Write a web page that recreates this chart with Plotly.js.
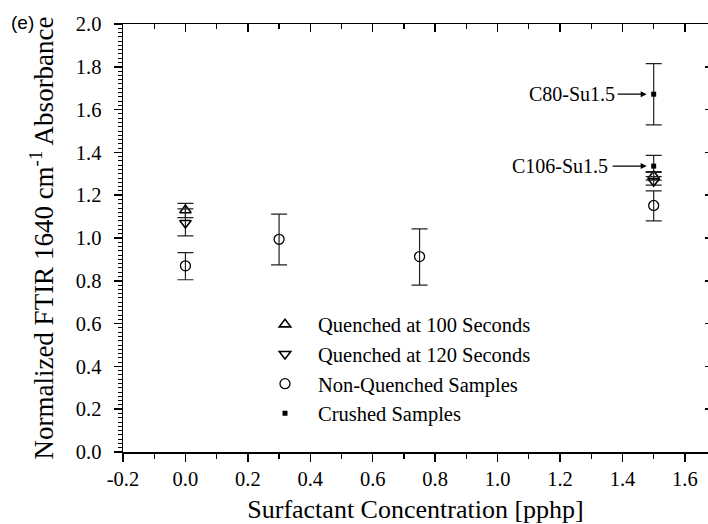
<!DOCTYPE html>
<html>
<head>
<meta charset="utf-8">
<script src="https://cdn.plot.ly/plotly-3.0.1.min.js"></script>
<style>html,body{margin:0;padding:0;overflow:hidden;background:#fff;}</style>
</head>
<body>
<div id="chart" style="width:708px;height:524px;"></div>
<script>
// Quenched at 100 Seconds
var q100X = [0, 1.5];
var q100Y = [1.13, 1.29];
var q100Up = [0.032, 0.02];
var q100Dn = [0.035, 0.02];
// Quenched at 120 Seconds
var q120X = [0, 1.5];
var q120Y = [1.07, 1.265];
var q120Up = [0.066, 0.022];
var q120Dn = [0.06, 0.018];
// Non-Quenched Samples
var nqX = [0, 0.3, 0.75, 1.5];
var nqY = [0.87, 0.994, 0.913, 1.152];
var nqUp = [0.062, 0.118, 0.13, 0.068];
var nqDn = [0.065, 0.12, 0.133, 0.072];
// Crushed Samples
var crX = [1.5, 1.5];
var crY = [1.672, 1.336];
var crUp = [0.143, 0.05];
var crDn = [0.143, 0.03];
var crLabels = ["C80-Su1.5", "C106-Su1.5"];

var seriesNames = ["Quenched at 100 Seconds", "Quenched at 120 Seconds", "Non-Quenched Samples", "Crushed Samples"];

// tick labels
var xTickVals = [-0.2, 0, 0.2, 0.4, 0.6, 0.8, 1.0, 1.2, 1.4, 1.6];
var xTickText = ["-0.2", "0.0", "0.2", "0.4", "0.6", "0.8", "1.0", "1.2", "1.4", "1.6"];
var yTickVals = [0, 0.2, 0.4, 0.6, 0.8, 1.0, 1.2, 1.4, 1.6, 1.8, 2.0];
var yTickText = ["0.0", "0.2", "0.4", "0.6", "0.8", "1.0", "1.2", "1.4", "1.6", "1.8", "2.0"];

var serif = "Liberation Serif, Times New Roman, serif";
var errStyle = function(up, dn){
  return {type:'data', symmetric:false, array:up, arrayminus:dn, color:'#222', thickness:1.2, width:8};
};

var traces = [
  {x:q100X, y:q100Y, name:seriesNames[0], type:'scatter', mode:'markers', legendgroup:'a',
   marker:{symbol:'triangle-up-open', size:10, color:'#000', line:{width:1.6, color:'#000'}},
   error_y:errStyle(q100Up, q100Dn)},
  {x:q120X, y:q120Y, name:seriesNames[1], type:'scatter', mode:'markers', legendgroup:'b',
   marker:{symbol:'triangle-down-open', size:10, color:'#000', line:{width:1.6, color:'#000'}},
   error_y:errStyle(q120Up, q120Dn)},
  {x:nqX, y:nqY, name:seriesNames[2], type:'scatter', mode:'markers', legendgroup:'c',
   marker:{symbol:'circle-open', size:10, color:'#000', line:{width:1.3, color:'#000'}},
   error_y:errStyle(nqUp, nqDn)},
  {x:crX, y:crY, name:seriesNames[3], type:'scatter', mode:'markers', legendgroup:'d',
   marker:{symbol:'square', size:5, color:'#000'},
   error_y:errStyle(crUp, crDn)},
  {x:[], y:[], xaxis:'x2', yaxis:'y2', type:'scatter', mode:'markers', showlegend:false, hoverinfo:'skip'}
];

var xr = [-0.2, 1.674];
var yr = [0, 2.0];

var annotations = [
  {x:crX[0], y:crY[0], xref:'x', yref:'y', text:crLabels[0], showarrow:true, ax:-36, ay:0,
   xanchor:'right', arrowhead:2, arrowsize:1, arrowwidth:1.2, standoff:7, arrowcolor:'#000', borderpad:2,
   font:{family:serif, size:20, color:'#000'}},
  {x:crX[1], y:crY[1], xref:'x', yref:'y', text:crLabels[1], showarrow:true, ax:-41, ay:0,
   xanchor:'right', arrowhead:2, arrowsize:1, arrowwidth:1.2, standoff:7, arrowcolor:'#000', borderpad:4,
   font:{family:serif, size:20, color:'#000'}},
  {x:0, y:1, xref:'paper', yref:'paper', xshift:-114, yshift:14, xanchor:'left', yanchor:'top',
   text:'(e)', showarrow:false, font:{family:'Liberation Sans, Arial, sans-serif', size:19, color:'#000'}}
];

var layout = {
  width:708, height:524,
  margin:{l:123, r:0, t:24, b:72},
  paper_bgcolor:'#fff', plot_bgcolor:'#fff',
  font:{family:serif, color:'#000'},
  showlegend:true,
  legend:{x:0.2205, y:0.3446, xanchor:'left', yanchor:'top', bgcolor:'rgba(0,0,0,0)', itemwidth:56,
          font:{family:serif, size:20.5, color:'#000'}, traceorder:'grouped', tracegroupgap:0},
  xaxis:{range:xr, showgrid:false, zeroline:false, showline:true, linecolor:'#000', linewidth:1.5,
         ticks:'outside', ticklen:8, tickwidth:1.5, tickcolor:'#000',
         tickmode:'array', tickvals:xTickVals, ticktext:xTickText,
         minor:{ticks:'outside', ticklen:5, tickwidth:1.2, tickcolor:'#000', dtick:0.1, tick0:0, showgrid:false},
         tickfont:{family:serif, size:20.5, color:'#000'},
         title:{text:'Surfactant Concentration [pphp]', font:{family:serif, size:26, color:'#000'}, standoff:11}},
  yaxis:{range:yr, showgrid:false, zeroline:false, showline:true, linecolor:'#000', linewidth:1.5,
         ticks:'outside', ticklen:8, tickwidth:1.5, tickcolor:'#000',
         tickmode:'array', tickvals:yTickVals, ticktext:yTickText, ticklabelstandoff:8,
         minor:{ticks:'outside', ticklen:4, tickwidth:1, tickcolor:'#000', dtick:0.02, tick0:0, showgrid:false},
         tickfont:{family:serif, size:20.5, color:'#000'},
         title:{text:'Normalized FTIR 1640 cm<sup>-1</sup> Absorbance', font:{family:serif, size:27, color:'#000'}, standoff:14}},
  xaxis2:{range:xr, overlaying:'x', side:'top', anchor:'y', showgrid:false, zeroline:false,
          showline:true, linecolor:'#000', linewidth:1.5, showticklabels:false,
          ticks:'inside', ticklen:8, tickwidth:1.5, tickcolor:'#000', dtick:0.2, tick0:0,
          minor:{ticks:'inside', ticklen:5, tickwidth:1.2, tickcolor:'#000', dtick:0.1, showgrid:false}},
  yaxis2:{range:yr, overlaying:'y', side:'right', anchor:'x', showgrid:false, zeroline:false,
          showline:false, showticklabels:false,
          ticks:'inside', ticklen:3, tickwidth:1.5, tickcolor:'#000', dtick:0.2, tick0:0},
  annotations:annotations
};

Plotly.newPlot('chart', traces, layout, {staticPlot:true, displayModeBar:false});
</script>
</body>
</html>
